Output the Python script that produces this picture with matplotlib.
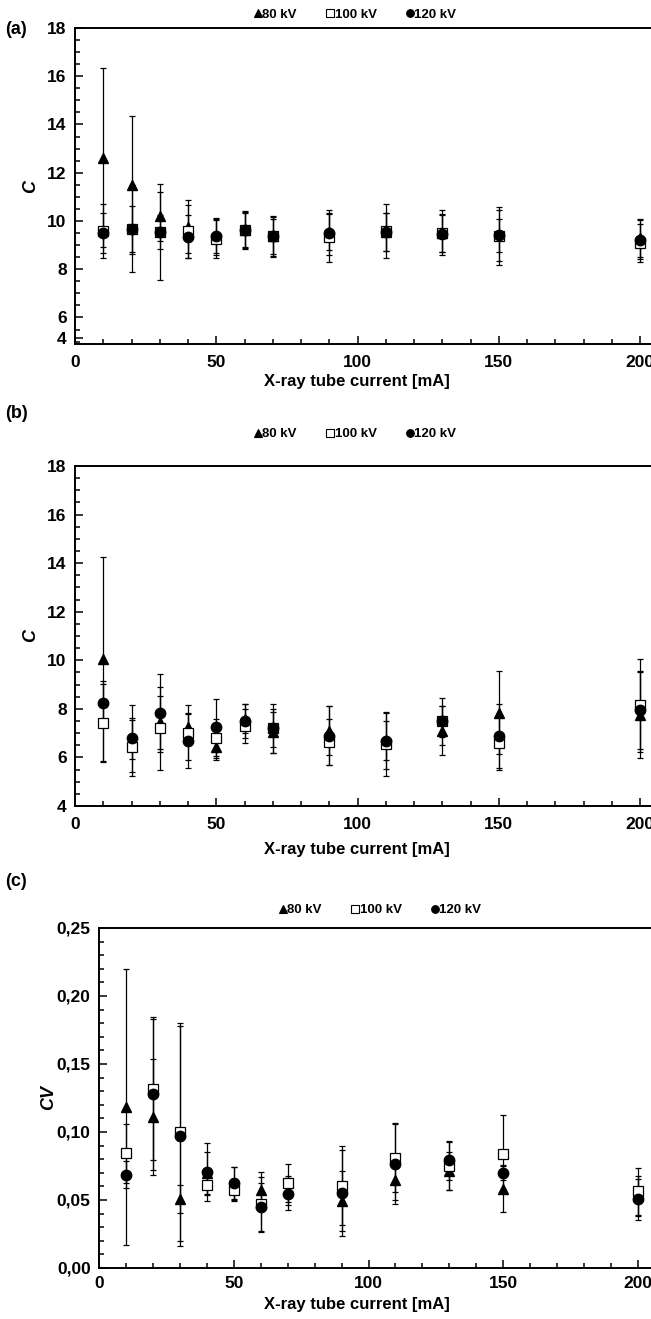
import matplotlib
matplotlib.use("Agg")
import matplotlib.pyplot as plt
from matplotlib.ticker import MultipleLocator, FuncFormatter, FixedLocator, FixedFormatter
from matplotlib.lines import Line2D

plt.rcParams['font.family'] = ['Liberation Sans', 'DejaVu Sans']
plt.rcParams['font.weight'] = 'bold'

current = [10, 20, 30, 40, 50, 60, 70, 90, 110, 130, 150, 200]
series_labels = ["80 kV", "100 kV", "120 kV"]

# Panel (a): C
a_80 = [12.63, 11.50, 10.19, 9.77, 9.35, 9.62, 9.36, 9.55, 9.55, 9.50, 9.40, 9.29]
a_80_err = [3.70, 2.86, 1.00, 1.08, 0.75, 0.78, 0.80, 0.74, 0.80, 0.80, 0.67, 0.80]
a_100 = [9.59, 9.68, 9.55, 9.57, 9.26, 9.62, 9.36, 9.32, 9.58, 9.52, 9.36, 9.08]
a_100_err = [1.12, 1.80, 2.00, 1.10, 0.80, 0.70, 0.85, 1.00, 1.12, 0.92, 1.20, 0.80]
a_120 = [9.51, 9.68, 9.55, 9.35, 9.39, 9.62, 9.36, 9.51, 9.55, 9.48, 9.40, 9.22]
a_120_err = [0.82, 0.95, 0.70, 0.89, 0.72, 0.75, 0.72, 0.94, 0.80, 0.78, 1.06, 0.80]
a_ticks = [5.15, 6, 8, 10, 12, 14, 16, 18]
a_ticklabels = ["4", "6", "8", "10", "12", "14", "16", "18"]

# Panel (b): C
b_80 = [10.07, 6.75, 7.45, 7.24, 6.44, 7.60, 7.03, 7.10, 6.70, 7.10, 7.84, 7.75]
b_80_err = [4.20, 0.80, 1.10, 0.58, 0.55, 0.60, 0.85, 1.00, 1.17, 1.00, 1.70, 1.78]
b_100 = [7.42, 6.43, 7.20, 7.02, 6.79, 7.31, 7.21, 6.62, 6.54, 7.48, 6.58, 8.14]
b_100_err = [1.60, 1.20, 1.70, 1.13, 0.80, 0.70, 0.80, 0.95, 1.30, 0.96, 1.10, 1.90]
b_120 = [8.25, 6.79, 7.82, 6.68, 7.24, 7.50, 7.20, 6.90, 6.69, 7.48, 6.88, 7.96]
b_120_err = [0.88, 1.38, 1.60, 1.10, 1.17, 0.68, 1.00, 1.20, 0.80, 0.63, 1.30, 1.60]

# Panel (c): CV
c_80 = [0.1184, 0.1110, 0.0506, 0.0700, 0.0620, 0.0576, 0.0570, 0.0494, 0.0650, 0.0712, 0.0581, 0.0530]
c_80_err = [0.1015, 0.0425, 0.0105, 0.0154, 0.0120, 0.0130, 0.0110, 0.0220, 0.0150, 0.0140, 0.0166, 0.0150]
c_100 = [0.0842, 0.1318, 0.0998, 0.0611, 0.0576, 0.0472, 0.0623, 0.0606, 0.0812, 0.0750, 0.0837, 0.0564]
c_100_err = [0.0220, 0.0524, 0.0800, 0.0077, 0.0080, 0.0200, 0.0140, 0.0290, 0.0253, 0.0180, 0.0285, 0.0173]
c_120 = [0.0685, 0.1276, 0.0973, 0.0705, 0.0626, 0.0447, 0.0546, 0.0551, 0.0767, 0.0792, 0.0700, 0.0506]
c_120_err = [0.0100, 0.0555, 0.0810, 0.0214, 0.0120, 0.0180, 0.0118, 0.0318, 0.0293, 0.0144, 0.0055, 0.0150]

W, H = 651, 1319
fig = plt.figure(figsize=(W / 100, H / 100), dpi=100)

styles = [
    dict(marker='^', mfc='black', mec='black', ms=7),
    dict(marker='s', mfc='white', mec='black', ms=7.5, mew=0.9),
    dict(marker='o', mfc='black', mec='black', ms=7.5),
]


def make_axes(left_px, top_px, bottom_px, x200_px):
    pxu = (x200_px - left_px) / 200.0
    right_px = left_px + 210 * pxu
    ax = fig.add_axes([left_px / W, 1 - bottom_px / H,
                       (right_px - left_px) / W, (bottom_px - top_px) / H])
    ax.set_xlim(0, 210)
    return ax


def draw(ax, series, errs):
    for vals, err in zip(series, errs):
        ax.errorbar(current, vals, yerr=err, fmt='none', ecolor='black',
                    elinewidth=0.9, capsize=2.5, capthick=0.9, zorder=2)
    for vals, st in zip(series, styles):
        ax.plot(current, vals, linestyle='none', zorder=3, **st)


def style_axes(ax, ymin, ymax, ymajor, yminor, fmt=None, xlabel_y=-0.1, xpad=8):
    ax.set_ylim(ymin, ymax)
    ax.xaxis.set_major_locator(MultipleLocator(50))
    ax.xaxis.set_minor_locator(MultipleLocator(10))
    ax.yaxis.set_major_locator(MultipleLocator(ymajor))
    ax.yaxis.set_minor_locator(MultipleLocator(yminor))
    ax.tick_params(which='both', direction='in', top=False, right=False,
                   labelsize=12.5, width=1.1)
    ax.tick_params(axis='x', pad=xpad)
    ax.tick_params(axis='y', pad=6)
    ax.tick_params(which='major', length=6)
    ax.tick_params(which='minor', length=3.5)
    for sp in ax.spines.values():
        sp.set_linewidth(1.4)
    if fmt is not None:
        ax.yaxis.set_major_formatter(FuncFormatter(fmt))
    ax.set_xlabel("X-ray tube current [mA]", fontsize=12, fontweight='bold')
    pos = ax.get_position()
    ax.xaxis.set_label_coords((357 - pos.x0 * W) / (pos.width * W), xlabel_y)


def add_legend(cx_px, y_px):
    handles = [Line2D([], [], linestyle='none', marker=st['marker'],
                      mfc=st['mfc'], mec=st['mec'], ms=5.5, mew=0.8)
               for st in styles]
    fig.legend(handles, series_labels, loc='center',
               bbox_to_anchor=(cx_px / W, 1 - y_px / H), ncol=3,
               frameon=False, handlelength=0.6, handletextpad=0.05,
               columnspacing=2.2, prop=dict(weight='bold', size=9.5))


# Panel (a)
axa = make_axes(75, 28, 344, 640)
draw(axa, [a_80, a_100, a_120], [a_80_err, a_100_err, a_120_err])
style_axes(axa, 4.9, 18, 2, 0.5, xlabel_y=-0.095)
axa.yaxis.set_major_locator(FixedLocator(a_ticks))
axa.yaxis.set_major_formatter(FixedFormatter(a_ticklabels))
axa.set_ylabel("C", fontsize=13, fontweight='bold', fontstyle='italic', labelpad=6)
add_legend(355, 15)
fig.text(5 / W, 1 - 30 / H, "(a)", fontsize=13, fontweight='bold', va='center')

# Panel (b)
axb = make_axes(75, 466, 806, 640)
draw(axb, [b_80, b_100, b_120], [b_80_err, b_100_err, b_120_err])
style_axes(axb, 4, 18, 2, 0.5, xlabel_y=-0.105)
axb.set_ylabel("C", fontsize=13, fontweight='bold', fontstyle='italic', labelpad=6)
add_legend(355, 434)
fig.text(5 / W, 1 - 414 / H, "(b)", fontsize=13, fontweight='bold', va='center')

# Panel (c)
axc = make_axes(99, 928, 1268, 638)
draw(axc, [c_80, c_100, c_120], [c_80_err, c_100_err, c_120_err])
style_axes(axc, 0, 0.25, 0.05, 0.01,
           fmt=lambda v, p: ("%.2f" % v).replace('.', ','), xlabel_y=-0.085, xpad=6)
axc.set_ylabel("CV", fontsize=13, fontweight='bold', fontstyle='italic', labelpad=0)
add_legend(380, 910)
fig.text(5 / W, 1 - 881 / H, "(c)", fontsize=13, fontweight='bold', va='center')

fig.savefig("out.png", dpi=100)
